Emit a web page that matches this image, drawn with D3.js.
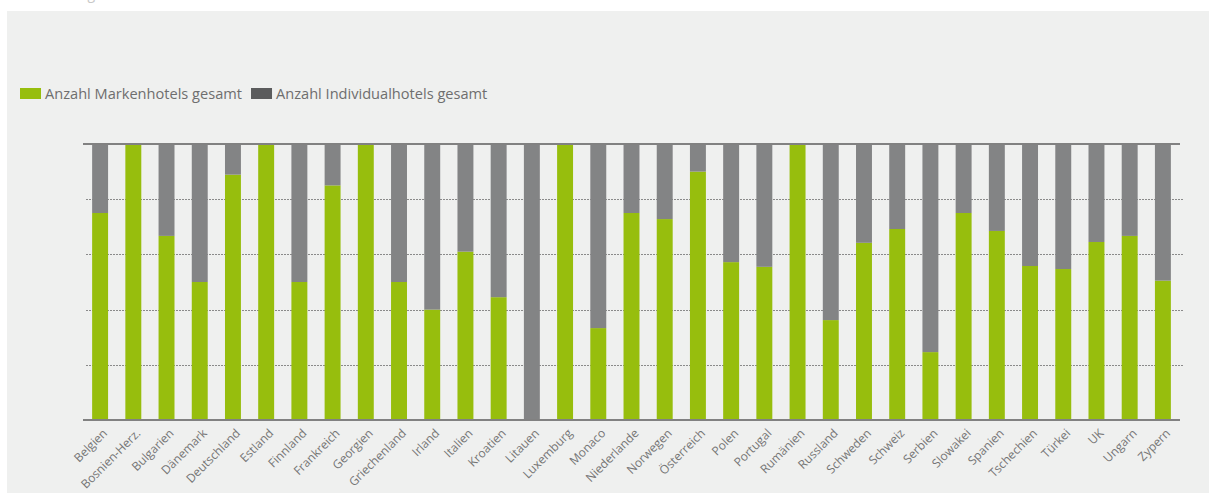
<!DOCTYPE html>
<html>
<head>
<meta charset="utf-8">
<script src="https://cdn.jsdelivr.net/npm/d3@7"></script>
<style>
  html, body { margin: 0; padding: 0; background: #ffffff; }
  svg { display: block; }
  text { font-family: "Open Sans", "Noto Sans", sans-serif; }
</style>
</head>
<body>
<svg id="chart" width="1209" height="493"></svg>
<script>
const categories = ["Belgien","Bosnien-Herz.","Bulgarien","Dänemark","Deutschland","Estland","Finnland","Frankreich","Georgien","Griechenland","Irland","Italien","Kroatien","Litauen","Luxemburg","Monaco","Niederlande","Norwegen","Österreich","Polen","Portugal","Rumänien","Russland","Schweden","Schweiz","Serbien","Slowakei","Spanien","Tschechien","Türkei","UK","Ungarn","Zypern"];
// share (%) of brand hotels per country
const markenhotels = [75,100,66.7,50,88.9,100,50,85,100,50,40,61,44.5,0,100,33.3,75,72.8,90,57.2,55.5,100,36.2,64.2,69.2,24.6,75,68.5,55.8,54.7,64.5,66.7,50.5];
const individualhotels = markenhotels.map(v => 100 - v);
const seriesNames = ["Anzahl Markenhotels gesamt","Anzahl Individualhotels gesamt"];
const seriesColors = ["#97be0d","#838485"];
const legendColors = ["#97be0d","#5b5c5d"];
const yTicks = [0,20,40,60,80,100];

const svg = d3.select("#chart");

// background panel
svg.append("rect").attr("x",7).attr("y",11).attr("width",1202).attr("height",482).attr("fill","#eff0ef");

// cut-off text at top
svg.append("text").attr("x",20).attr("y",-1).attr("font-size",14).attr("fill","#c8c8c8").text("Darstellung");

const x = d3.scaleBand().domain(categories).range([83.5,1179.5]).paddingInner(0.52).paddingOuter(0.26);
const y = d3.scaleLinear().domain([0,100]).range([420,144]);

// gridlines
svg.append("g").selectAll("line").data(yTicks.filter(t => t>0 && t<100)).join("line")
  .attr("x1",86).attr("x2",1183)
  .attr("y1",d=>Math.round(y(d))+0.5).attr("y2",d=>Math.round(y(d))+0.5)
  .attr("stroke","#8a8a8a").attr("stroke-width",1).attr("stroke-dasharray","2,1");

const rows = categories.map((c,i)=>({cat:c, m:markenhotels[i], ind:individualhotels[i]}));
const stack = d3.stack().keys(["m","ind"])(rows);

svg.append("g").selectAll("g").data(stack).join("g")
  .attr("fill",(d,i)=>seriesColors[i])
  .selectAll("rect").data(d=>d).join("rect")
  .attr("x",d=>x(d.data.cat))
  .attr("width",x.bandwidth())
  .attr("y",d=>y(d[1]))
  .attr("height",d=>y(d[0])-y(d[1]));

// top and bottom axis lines
[100,0].forEach(v=>{
  svg.append("line").attr("x1",83).attr("x2",1180)
    .attr("y1",y(v)).attr("y2",y(v))
    .attr("stroke","#818181").attr("stroke-width",2);
});

// x axis labels
const xAxis = d3.axisBottom(x).tickSize(0).tickPadding(0);
const gx = svg.append("g").attr("transform","translate(0,420)").call(xAxis);
gx.select(".domain").remove();
gx.selectAll("text")
  .attr("font-size",12)
  .attr("fill","#757575")
  .attr("text-anchor","end")
  .attr("dy","0.35em")
  .attr("transform","translate(5,11) rotate(-45)");

// legend
const legend = svg.append("g");
let lx = 20;
seriesNames.forEach((name,i)=>{
  legend.append("rect").attr("x",lx).attr("y",88).attr("width",21).attr("height",11).attr("fill",legendColors[i]);
  const t = legend.append("text").attr("x",lx+25).attr("y",99).attr("font-size",14.6).attr("fill","#6e6e6e").text(name);
  lx += 25 + t.node().getComputedTextLength() + 9;
});
</script>
</body>
</html>
